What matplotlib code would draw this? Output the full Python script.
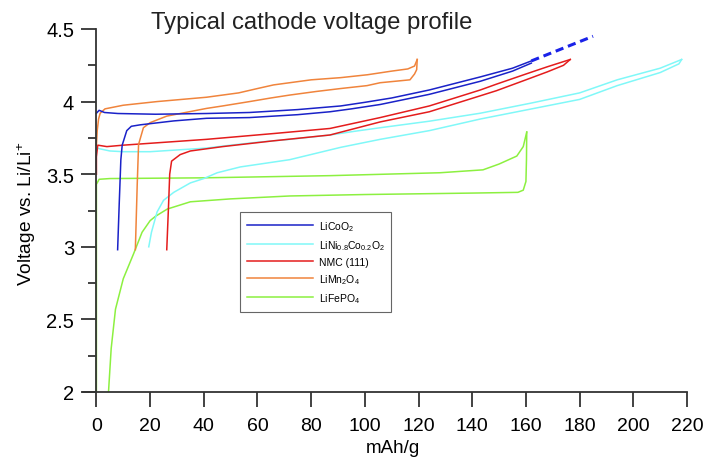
import numpy as np
import matplotlib
matplotlib.use("Agg")
import matplotlib.pyplot as plt
from matplotlib.ticker import MultipleLocator

plt.rcParams['font.family'] = ['Liberation Sans', 'DejaVu Sans']
plt.rcParams['mathtext.fontset'] = 'custom'
plt.rcParams['mathtext.rm'] = 'Liberation Sans'
plt.rcParams['mathtext.it'] = 'Liberation Sans'

# LiCoO2
lco_chg_x = [0, 1, 3, 8, 22, 41, 57, 75, 91, 100, 110, 124, 143, 155, 162]
lco_chg_v = [3.92, 3.94, 3.925, 3.918, 3.913, 3.918, 3.925, 3.945, 3.97, 3.995, 4.025, 4.08, 4.17, 4.23, 4.28]
lco_dis_x = [162, 155, 143, 124, 105.7, 95, 87, 75, 57, 41, 28.8, 16.3, 13, 11.3, 9.6, 9.1, 8.5, 7.9]
lco_dis_v = [4.265, 4.21, 4.14, 4.05, 3.98, 3.95, 3.93, 3.91, 3.89, 3.885, 3.867, 3.84, 3.83, 3.80, 3.70, 3.60, 3.30, 2.98]
lco_ext_x = [162, 185]
lco_ext_v = [4.28, 4.45]

# LiNi0.8Co0.2O2
nca_chg_x = [0, 5, 10, 20, 41, 50, 60, 72, 87, 96, 105.7, 124, 143, 162, 180, 194, 210, 218]
nca_chg_v = [3.68, 3.66, 3.655, 3.655, 3.68, 3.70, 3.72, 3.74, 3.77, 3.795, 3.82, 3.865, 3.92, 3.99, 4.06, 4.15, 4.23, 4.29]
nca_dis_x = [218, 217, 210, 194, 180, 143, 124, 105.7, 91, 72, 53.6, 45, 40, 35, 28.8, 25, 22.6, 20.5, 19.5]
nca_dis_v = [4.29, 4.26, 4.20, 4.11, 4.015, 3.88, 3.80, 3.74, 3.685, 3.60, 3.55, 3.51, 3.47, 3.44, 3.375, 3.32, 3.24, 3.10, 3.0]

# NMC (111)
nmc_chg_x = [0, 0, 0.5, 3.9, 10, 41, 66, 87, 105.7, 124, 143, 149, 160, 168, 176.5]
nmc_chg_v = [3.50, 3.62, 3.70, 3.69, 3.70, 3.74, 3.78, 3.815, 3.89, 3.97, 4.08, 4.12, 4.19, 4.24, 4.29]
nmc_dis_x = [176.5, 174, 168, 160, 149, 143, 124, 105.7, 87, 66, 47, 35, 31.2, 28, 27.3, 26.9, 26.2]
nmc_dis_v = [4.29, 4.25, 4.205, 4.15, 4.075, 4.04, 3.93, 3.86, 3.77, 3.73, 3.69, 3.66, 3.635, 3.59, 3.50, 3.30, 2.98]

# LiMn2O4
lmo_chg_x = [0, 0.3, 0.8, 1.4, 3.2, 10, 22.5, 41, 45, 53, 60, 66, 72, 80, 91, 101, 110, 116, 118.5, 119.5]
lmo_chg_v = [3.70, 3.80, 3.88, 3.92, 3.95, 3.975, 4.0, 4.03, 4.04, 4.06, 4.09, 4.115, 4.13, 4.15, 4.165, 4.185, 4.21, 4.225, 4.245, 4.29]
lmo_dis_x = [119.5, 119.3, 118.5, 116.8, 105.7, 100.8, 91, 82, 72, 65, 57, 47, 41, 26.2, 20, 17.5, 15.7, 15.2, 14.5]
lmo_dis_v = [4.29, 4.22, 4.19, 4.15, 4.13, 4.11, 4.09, 4.07, 4.045, 4.025, 4.00, 3.97, 3.953, 3.90, 3.855, 3.82, 3.705, 3.43, 2.98]

# LiFePO4
lfp_chg_x = [0, 0, 1, 5, 40, 87, 128, 144, 150, 156.6, 159, 160.3]
lfp_chg_v = [2.0, 3.43, 3.465, 3.47, 3.475, 3.49, 3.51, 3.53, 3.57, 3.625, 3.69, 3.79]
lfp_dis_x = [160.3, 160.2, 160, 159, 157, 140, 100, 72, 50, 35, 26.4, 22, 20, 17, 13.8, 10, 7.1, 5.5, 4.5]
lfp_dis_v = [3.79, 3.60, 3.45, 3.39, 3.375, 3.37, 3.36, 3.35, 3.33, 3.31, 3.26, 3.21, 3.18, 3.10, 2.95, 2.78, 2.57, 2.3, 2.0]

labels = ['LiCoO$_2$', 'LiNi$_{0.8}$Co$_{0.2}$O$_2$', 'NMC (111)', 'LiMn$_2$O$_4$', 'LiFePO$_4$']
colors = ['#1a22c8', '#80f8f8', '#e41c1c', '#f0843c', '#8cf040']

x_ticks = list(range(0, 221, 20))
y_ticks = [2, 2.5, 3, 3.5, 4, 4.5]
y_tick_labels = ['2', '2.5', '3', '3.5', '4', '4.5']

fig = plt.figure(figsize=(7.15, 4.6), dpi=100)
ax = fig.add_axes([83 / 715, 1 - 393 / 460, (687 - 83) / 715, (393 - 30) / 460])

curves = [
    (lco_chg_x, lco_chg_v, lco_dis_x, lco_dis_v),
    (nca_chg_x, nca_chg_v, nca_dis_x, nca_dis_v),
    (nmc_chg_x, nmc_chg_v, nmc_dis_x, nmc_dis_v),
    (lmo_chg_x, lmo_chg_v, lmo_dis_x, lmo_dis_v),
    (lfp_chg_x, lfp_chg_v, lfp_dis_x, lfp_dis_v),
]
# draw green first so others sit on top, like the reference
order = [4, 1, 2, 3, 0]
handles = {}
for i in order:
    cx, cv, dx, dv = curves[i]
    h, = ax.plot(cx, cv, color=colors[i], lw=1.1, label=labels[i])
    ax.plot(dx, dv, color=colors[i], lw=1.1)
    handles[i] = h
ax.plot(lco_ext_x, lco_ext_v, color='#1a22e8', lw=2.2, linestyle=(0, (2.7, 1.6)))

ax.set_xlim(-5, 220)
ax.set_ylim(2, 4.5)
ax.spines['top'].set_visible(False)
ax.spines['right'].set_visible(False)
ax.spines['left'].set_position(('data', 0))
for s in ['left', 'bottom']:
    ax.spines[s].set_color('#333333')
    ax.spines[s].set_linewidth(1.3)

ax.set_xticks(x_ticks)
ax.set_yticks(y_ticks)
ax.set_yticklabels(y_tick_labels)
ax.yaxis.set_minor_locator(MultipleLocator(0.25))
ax.tick_params(axis='x', direction='out', length=11, width=1.3, color='#333333', pad=7, labelsize=14)
ax.tick_params(axis='y', which='major', direction='out', length=11, width=1.3, color='#333333', pad=5, labelsize=14.5)
ax.tick_params(axis='y', which='minor', direction='out', length=5.5, width=1.3, color='#333333')

fig.text(312 / 715, 1 - 29.5 / 460, 'Typical cathode voltage profile', ha='center', va='baseline', fontsize=17.2, color='#222222')
fig.text(393 / 715, 1 - 449 / 460, 'mAh/g', ha='center', va='center', fontsize=13.5)
fig.text(27 / 715, 1 - 214 / 460, 'Voltage vs. Li/Li$^{+}$', ha='center', va='center', rotation=90, fontsize=13.8)

leg = ax.legend([handles[i] for i in range(5)], labels, loc='upper left',
                bbox_to_anchor=(240 / 715, 1 - 213 / 460), bbox_transform=fig.transFigure,
                fontsize=7.5, handlelength=6.4, handletextpad=0.5, labelspacing=0.5,
                borderpad=0.65, borderaxespad=0, fancybox=False, framealpha=1)
leg.get_frame().set_edgecolor('#666666')
leg.get_frame().set_linewidth(0.8)

fig.savefig('out.png', dpi=100)
